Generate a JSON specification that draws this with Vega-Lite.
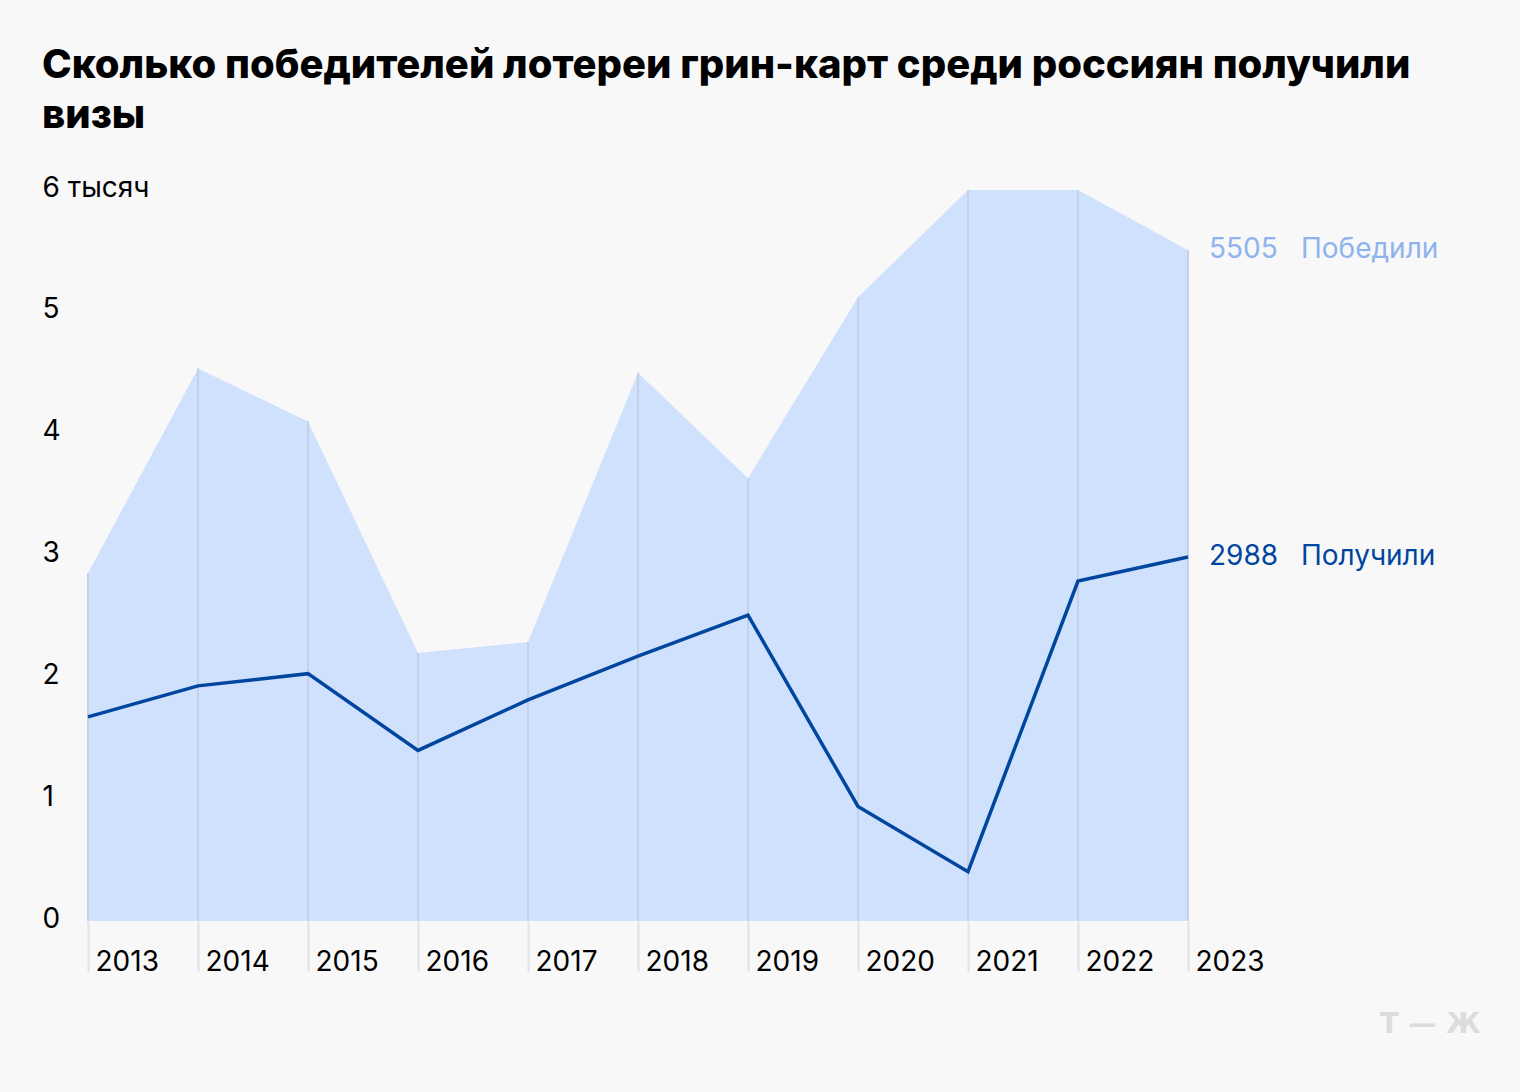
{
  "$schema": "https://vega.github.io/schema/vega-lite/v6.json",
  "autosize": {"type": "none"},
  "width": 1100,
  "height": 731,
  "padding": {"left": 88, "top": 190, "right": 332, "bottom": 171},
  "background": "#f8f8f8",
  "config": {"view": {"stroke": null}, "font": "Inter"},
  "title": {
    "text": ["Сколько победителей лотереи грин-карт среди россиян получили", "визы"],
    "anchor": "start",
    "frame": "group",
    "font": "Inter",
    "fontSize": 40,
    "fontWeight": 800,
    "lineHeight": 50,
    "color": "#000000",
    "dx": -46,
    "offset": 38
  },
  "data": {
    "values": [
      {"year": 2013, "series": "Победили", "value": 2855},
      {"year": 2014, "series": "Победили", "value": 4535},
      {"year": 2015, "series": "Победили", "value": 4100},
      {"year": 2016, "series": "Победили", "value": 2200},
      {"year": 2017, "series": "Победили", "value": 2290},
      {"year": 2018, "series": "Победили", "value": 4500},
      {"year": 2019, "series": "Победили", "value": 3635},
      {"year": 2020, "series": "Победили", "value": 5120},
      {"year": 2021, "series": "Победили", "value": 6000},
      {"year": 2022, "series": "Победили", "value": 6000},
      {"year": 2023, "series": "Победили", "value": 5505},
      {"year": 2013, "series": "Получили", "value": 1675},
      {"year": 2014, "series": "Получили", "value": 1930},
      {"year": 2015, "series": "Получили", "value": 2030},
      {"year": 2016, "series": "Получили", "value": 1400},
      {"year": 2017, "series": "Получили", "value": 1815},
      {"year": 2018, "series": "Получили", "value": 2175},
      {"year": 2019, "series": "Получили", "value": 2510},
      {"year": 2020, "series": "Получили", "value": 940},
      {"year": 2021, "series": "Получили", "value": 405},
      {"year": 2022, "series": "Получили", "value": 2790},
      {"year": 2023, "series": "Получили", "value": 2988}
    ]
  },
  "encoding": {
    "x": {
      "field": "year",
      "type": "quantitative",
      "scale": {"domain": [2013, 2023], "nice": false, "zero": false},
      "axis": {
        "values": [2013, 2014, 2015, 2016, 2017, 2018, 2019, 2020, 2021, 2022, 2023],
        "format": "d",
        "domain": false,
        "grid": false,
        "ticks": true,
        "tickSize": 50,
        "tickWidth": 2,
        "tickColor": "#e2e2e2",
        "labelAlign": "left",
        "labelBaseline": "alphabetic",
        "labelPadding": -1,
        "labelOffset": 7,
        "labelFlush": false,
        "labelOverlap": false,
        "labelBound": false,
        "labelFont": "Inter",
        "labelFontSize": 28,
        "labelColor": "#000000",
        "title": "Т — Ж",
        "titleFont": "DejaVu Sans",
        "titleFontSize": 28,
        "titleFontWeight": "bold",
        "titleColor": "#dcdcdc",
        "titleAlign": "right",
        "titleAnchor": null,
        "titleBaseline": "alphabetic",
        "titleX": 1392,
        "titleY": 111
      }
    },
    "y": {
      "field": "value",
      "type": "quantitative",
      "scale": {"domain": [0, 6000], "nice": false},
      "axis": {
        "values": [0, 1000, 2000, 3000, 4000, 5000, 6000],
        "labelExpr": "datum.value == 6000 ? '6 тысяч' : format(datum.value / 1000, 'd')",
        "domain": false,
        "grid": false,
        "ticks": false,
        "tickSize": 0,
        "labelAlign": "left",
        "labelBaseline": "alphabetic",
        "labelPadding": 46,
        "labelOffset": 6,
        "labelFlush": false,
        "labelOverlap": false,
        "labelBound": false,
        "labelFont": "Inter",
        "labelFontSize": 28,
        "labelColor": "#000000",
        "title": null
      }
    }
  },
  "layer": [
    {
      "transform": [{"filter": "datum.series == 'Победили'"}],
      "mark": {"type": "area", "color": "#d0e1fe", "interpolate": "linear", "clip": true}
    },
    {
      "transform": [{"filter": "datum.series == 'Победили'"}],
      "mark": {"type": "rule", "color": "#c3d0e6", "strokeWidth": 2},
      "encoding": {"y": {"datum": 0}, "y2": {"field": "value"}}
    },
    {
      "transform": [{"filter": "datum.series == 'Получили'"}],
      "mark": {"type": "line", "color": "#00469f", "strokeWidth": 3.5, "interpolate": "linear"}
    },
    {
      "transform": [{"filter": "datum.year == 2023"}],
      "mark": {"type": "text", "align": "left", "baseline": "middle", "dx": 21, "font": "Inter", "fontSize": 28},
      "encoding": {
        "text": {"field": "value", "type": "quantitative", "format": "d"},
        "color": {"field": "series", "type": "nominal", "scale": {"domain": ["Победили", "Получили"], "range": ["#8fb3ee", "#00469f"]}, "legend": null}
      }
    },
    {
      "transform": [{"filter": "datum.year == 2023"}],
      "mark": {"type": "text", "align": "left", "baseline": "middle", "dx": 113, "font": "Inter", "fontSize": 28},
      "encoding": {
        "text": {"field": "series", "type": "nominal"},
        "color": {"field": "series", "type": "nominal", "scale": {"domain": ["Победили", "Получили"], "range": ["#8fb3ee", "#00469f"]}, "legend": null}
      }
    }
  ]
}
